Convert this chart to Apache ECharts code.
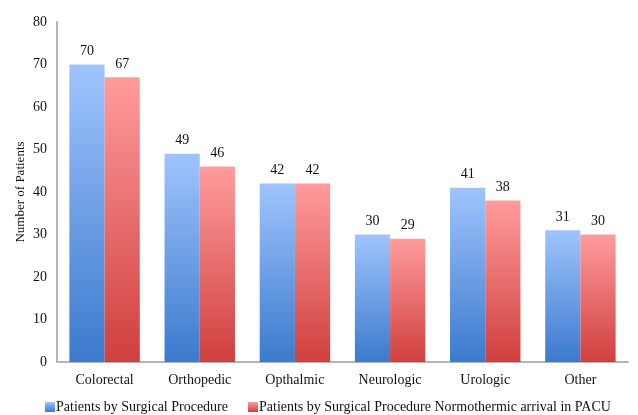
<!DOCTYPE html>
<html><head><meta charset="utf-8">
<script src="https://cdn.jsdelivr.net/npm/echarts@6/dist/echarts.min.js"></script>
<style>html,body{margin:0;padding:0;background:#fff}#c{width:638px;height:415px}</style>
</head><body><div id="c"></div>
<script>
var categories = ["Colorectal","Orthopedic","Opthalmic","Neurologic","Urologic","Other"];
var seriesAll = [70,49,42,30,41,31];
var seriesNormo = [67,46,42,29,38,30];
var yTicks = [0,10,20,30,40,50,60,70,80];
var seriesNames = ["Patients by Surgical Procedure","Patients by Surgical Procedure Normothermic arrival in PACU"];

var font = "Liberation Serif";
function grad(top, bottom){
  return new echarts.graphic.LinearGradient(0,0,0,1,[{offset:0,color:top},{offset:1,color:bottom}]);
}
var blue = grad('#9fc4fd','#3b7acd');
var red = grad('#ff9c9c','#cf3f3d');
var chart = echarts.init(document.getElementById('c'));
chart.setOption({
  animation:false,
  textStyle:{fontFamily:font},
  grid:{left:57,right:10,top:22,bottom:53,containLabel:false},
  legend:{
    top:395,left:40,itemWidth:10,itemHeight:10,itemGap:20,
    textStyle:{fontFamily:font,fontSize:14,color:'#111',padding:[0,0,0,-4]},
    data:[{name:seriesNames[0],icon:'rect'},{name:seriesNames[1],icon:'rect'}]
  },
  xAxis:{
    type:'category',data:categories,
    axisLine:{lineStyle:{color:'#b5b5b5',width:2}},
    axisTick:{show:false},
    axisLabel:{fontFamily:font,fontSize:14,color:'#111',margin:11}
  },
  yAxis:{
    type:'value',min:yTicks[0],max:yTicks[yTicks.length-1],interval:10,
    name:'Number of Patients',nameLocation:'middle',nameGap:30,nameMoveOverlap:false,
    nameTextStyle:{fontFamily:font,fontSize:13,color:'#111'},
    axisLine:{show:true,lineStyle:{color:'#b5b5b5',width:2}},
    axisTick:{show:false},
    splitLine:{show:false},
    axisLabel:{fontFamily:font,fontSize:14,color:'#111',margin:10}
  },
  series:[
    {name:seriesNames[0],type:'bar',data:seriesAll,barGap:'0%',barCategoryGap:'26%',
     itemStyle:{color:blue},
     label:{show:true,position:'top',distance:6,fontFamily:font,fontSize:14,color:'#111'}},
    {name:seriesNames[1],type:'bar',data:seriesNormo,
     itemStyle:{color:red},
     label:{show:true,position:'top',distance:6,fontFamily:font,fontSize:14,color:'#111'}}
  ]
});
</script></body></html>
